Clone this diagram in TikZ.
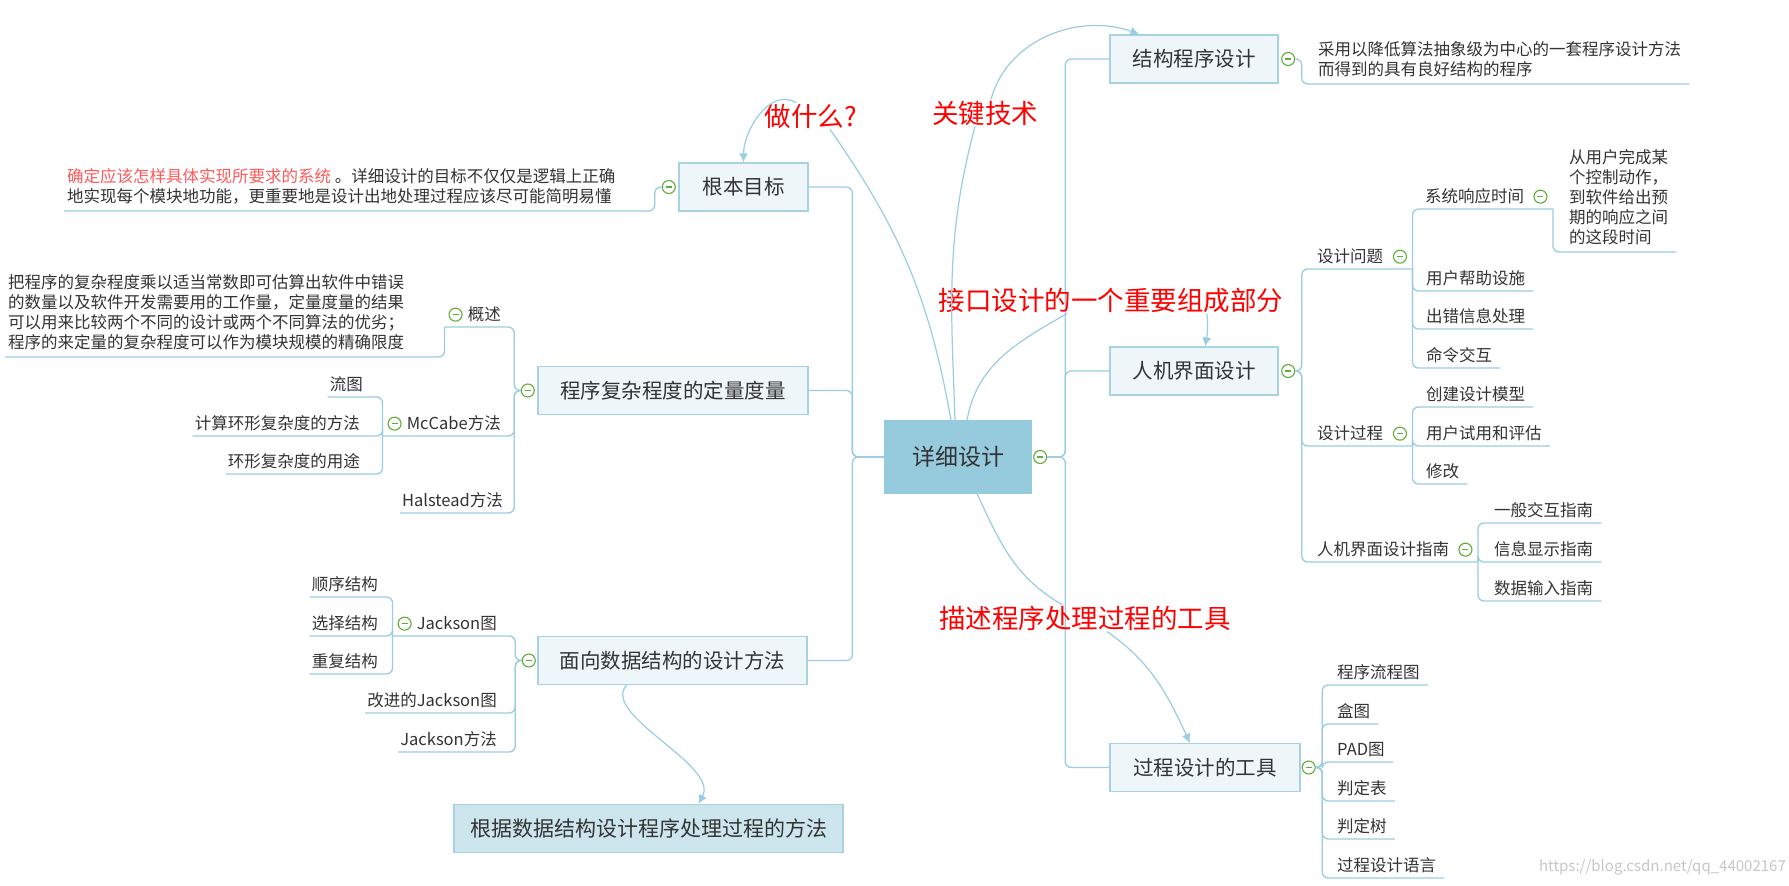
\documentclass[tikz,border=0pt]{standalone}
\usepackage{fontspec}
\setmainfont{Noto Sans CJK SC}
\usetikzlibrary{positioning,calc,arrows.meta}

\definecolor{lnc}{HTML}{9ACDE0}
\definecolor{bdc}{HTML}{A6D2E3}
\definecolor{boxc}{HTML}{EEF6FA}
\definecolor{rootc}{HTML}{96CBDD}
\definecolor{outc}{HTML}{CDE6EE}
\definecolor{txt}{HTML}{333333}
\definecolor{grn}{HTML}{62AD37}
\definecolor{hl}{HTML}{FF5A5A}
\definecolor{notec}{HTML}{FF0000}

\newcommand{\fsz}[1]{\fontsize{#1}{20}\selectfont}

\tikzset{
  lnk/.style={draw=lnc, line width=1.3pt, rounded corners=6pt},
  thread/.style={draw=lnc, line width=1.2pt},
  arr/.style={thread, -{Latex[length=9pt,width=9pt]}},
  topic/.style={draw=bdc, fill=boxc, line width=1.3pt, text=txt, font=\fsz{20.5},
    minimum height=48pt, inner sep=0pt},
  rootbox/.style={topic, draw=rootc, fill=rootc, font=\fsz{23}, minimum height=72pt},
  outbox/.style={topic, fill=outc, font=\fsz{21}},
  leaf/.style={text=txt, font=\fsz{16.5}, text height=14pt, text depth=3.3pt, inner ysep=3.5pt},
  rleaf/.style={leaf, inner xsep=8pt, anchor=south west},
  lleaf/.style={leaf, inner xsep=2pt, anchor=south east},
  para/.style={text=txt, font=\fsz{16.5}, align=left, text depth=6pt, inner ysep=2.5pt,
    anchor=south west},
  note/.style={text=notec, font=\fsz{26.5}, inner sep=1pt},
  wmark/.style={text=black!22, font=\fsz{15}, inner sep=0pt},
  minus/.style={circle, draw=grn, fill=white, line width=1.1pt, minimum size=13pt, inner sep=0pt,
    path picture={\draw[grn, line width=1.5pt] ([xshift=-3pt]path picture bounding box.center)
      -- ([xshift=3pt]path picture bounding box.center);}},
}

\begin{document}
\begin{tikzpicture}[x=1pt,y=-1pt]
\fill[white] (0,0) rectangle (1789,886);
\useasboundingbox (0,0) rectangle (1789,886);

% centre
\node[rootbox, minimum width=146pt] (root) at (958,457) {详细设计};
\node[minus, right=1.5pt of root] (rc) {};

% ---- right side ----
\node[topic, minimum width=168pt] (spd) at (1194,59) {结构程序设计};
\node[minus, right=2.5pt of spd] (sc) {};
\node[para, inner xsep=8pt] (spdtxt) at (1310,84)
  {采用以降低算法抽象级为中心的一套程序设计方法\\而得到的具有良好结构的程序};

\node[topic, minimum width=168pt] (hci) at (1194,371) {人机界面设计};
\node[minus, right=2.5pt of hci] (hc) {};
\node[rleaf] (ques) at (1309,269) {设计问题};
\node[minus, right=1.5pt of ques] (qc) {};
\node[rleaf] (proc) at (1309,446) {设计过程};
\node[minus, right=1.5pt of proc] (pc) {};
\node[rleaf] (guide) at (1309,562) {人机界面设计指南};
\node[minus, right=1pt of guide] (gdc) {};
\coordinate (qh) at ($(qc.east |- ques.south)+(5.5,0)$);
\coordinate (ph) at ($(pc.east |- proc.south)+(5.5,0)$);
\coordinate (gh) at ($(gdc.east |- guide.south)+(5.5,0)$);

\node[rleaf] (resp) at (1417,209) {系统响应时间};
\node[minus, right=1pt of resp] (src) {};
\coordinate (rh) at ($(src.east |- resp.south)+(5.5,0)$);
\node[para, inner xsep=8pt] (resptxt) at (1561,252)
  {从用户完成某\\个控制动作，\\到软件给出预\\期的响应之间\\的这段时间};
\node[rleaf] (help) at (1418,291) {用户帮助设施};
\node[rleaf] (err) at (1418,329) {出错信息处理};
\node[rleaf] (cmd) at (1418,368) {命令交互};
\node[rleaf] (model) at (1418,407) {创建设计模型};
\node[rleaf] (trial) at (1418,446) {用户试用和评估};
\node[rleaf] (fix) at (1418,484) {修改};
\node[rleaf] (gen) at (1486,523) {一般交互指南};
\node[rleaf] (info) at (1486,562) {信息显示指南};
\node[rleaf] (input) at (1486,601) {数据输入指南};

\node[topic, minimum width=190pt] (tool) at (1205,767.5) {过程设计的工具};
\node[minus, right=1pt of tool] (tc) {};
\foreach \n/\t/\y in {flow/程序流程图/685, nsbox/盒图/724, pad/PAD图/762,
    tab/判定表/801, tree/判定树/839, pdl/过程设计语言/878}
  \node[rleaf] (\n) at (1329,\y) {\t};

% ---- left side ----
\node[topic, minimum width=129pt] (goal) at (743.5,187) {根本目标};
\node[minus, left=2.5pt of goal] (gc) {};
\node[para, inner xsep=3pt] (goaltxt) at (64,211)
  {\textcolor{hl}{确定应该怎样具体实现所要求的系统} 。详细设计的目标不仅仅是逻辑上正确\\地实现每个模块地功能，更重要地是设计出地处理过程应该尽可能简明易懂};

\node[topic, minimum width=270pt] (cplx) at (673,390.5) {程序复杂程度的定量度量};
\node[minus, left=2.5pt of cplx] (cc) {};
\node[lleaf] (ovw) at (503,327) {概述};
\node[minus, left=3pt of ovw] (ovc) {};
\coordinate (ovh) at ($(ovc.west |- ovw.south)+(-4,0)$);
\node[para, inner xsep=3pt] (ovtxt) at (5,357)
  {把程序的复杂程度乘以适当常数即可估算出软件中错误\\的数量以及软件开发需要用的工作量，定量度量的结果\\可以用来比较两个不同的设计或两个不同算法的优劣；\\程序的来定量的复杂程度可以作为模块规模的精确限度};
\node[lleaf] (mcb) at (503,436) {McCabe方法};
\node[minus, left=3pt of mcb] (mcc) {};
\coordinate (mch) at ($(mcc.west |- mcb.south)+(-5,0)$);
\node[lleaf] (hal) at (505,513) {Halstead方法};
\node[lleaf] (fgraph) at (365,397) {流图};
\node[lleaf] (cyc) at (362,436) {计算环形复杂度的方法};
\node[lleaf] (use) at (362,474) {环形复杂度的用途};

\node[topic, minimum width=269pt] (dsm) at (672.5,660.5) {面向数据结构的设计方法};
\node[minus, left=1.5pt of dsm] (dc) {};
\node[lleaf] (jgr) at (499,636) {Jackson图};
\node[minus, left=3pt of jgr] (jgc) {};
\coordinate (jh) at ($(jgc.west |- jgr.south)+(-5,0)$);
\node[lleaf] (ijg) at (499,713) {改进的Jackson图};
\node[lleaf] (jmt) at (499,752) {Jackson方法};
\node[lleaf] (seq) at (380,597) {顺序结构};
\node[lleaf] (sel) at (380,636) {选择结构};
\node[lleaf] (rep) at (380,674) {重复结构};

\node[outbox, minimum width=389pt] (dsp) at (648.5,828.5) {根据数据结构设计程序处理过程的方法};

% trunks
\draw[lnk] (rc.east) -- ++(18,0) |- (spd.west);
\draw[lnk] (rc.east) -- ++(18,0) |- (hci.west);
\draw[lnk] (rc.east) -- ++(18,0) |- (tool.west);
\draw[lnk] (root.west) -- ++(-32,0) |- (goal.east);
\draw[lnk] (root.west) -- ++(-32,0) |- (cplx.east);
\draw[lnk] (root.west) -- ++(-32,0) |- (dsm.east);

% right branches
\draw[lnk] (sc.east) -- ++(6.5,0) |- (spdtxt.south east);
\foreach \h in {qh,ph,gh}
  \draw[lnk] (hc.east) -- ++(6.5,0) |- (\h);
\draw[lnk] (qh) |- (rh);
\draw[lnk] (rh) |- (resptxt.south east);
\foreach \n in {help,err,cmd}
  \draw[lnk] (qh) |- (\n.south east);
\foreach \n in {model,trial,fix}
  \draw[lnk] (ph) |- (\n.south east);
\foreach \n in {gen,info,input}
  \draw[lnk] (gh) |- (\n.south east);
\foreach \n in {flow,nsbox,pad,tab,tree,pdl}
  \draw[lnk] (tc.east) -- ++(6.5,0) |- (\n.south east);

% left branches
\draw[lnk] (gc.west) -- ++(-7,0) |- (goaltxt.south west);
\foreach \h in {ovh,mch,hal.south west}
  \draw[lnk] (cc.west) -- ++(-6.5,0) |- (\h);
\draw[lnk] (ovh) |- (ovtxt.south west);
\foreach \n in {fgraph,cyc,use}
  \draw[lnk] (mch) |- (\n.south west);
\foreach \h in {jh,ijg.south west,jmt.south west}
  \draw[lnk] (dc.west) -- ++(-6.5,0) |- (\h);
\foreach \n in {seq,sel,rep}
  \draw[lnk] (jh) |- (\n.south west);

% red remarks
\node[note] (what) at (811,116) {做什么?};
\node[note] (key) at (985,113) {关键技术};
\node[note] (iface) at (1111,300) {接口设计的一个重要组成部分};
\node[note] (tooln) at (1085,618) {描述程序处理过程的工具};

\draw[thread] ([xshift=-7pt]root.north) to[out=100,in=-55] ([xshift=19pt]what.south);
\draw[arr] ([xshift=-15pt]what.north) to[out=150,in=90] (goal.north);
\draw[thread] ([xshift=-3pt]root.north) to[out=92,in=-105] ([xshift=-10pt]key.south);
\draw[arr] ([xshift=6pt]key.north) to[out=75,in=160] ([xshift=30pt]spd.north west);
\draw[thread] ([xshift=9pt]root.north) to[out=80,in=210] ([xshift=-44pt]iface.south);
\draw[arr] ([xshift=96pt]iface.south) to[bend left=8] ([xshift=11pt]hci.north);
\draw[thread] ([xshift=19pt]root.south) to[out=-65,in=150] ([xshift=-23pt]tooln.north);
\draw[arr] ([xshift=22pt]tooln.south) to[out=-35,in=115] ([xshift=-15pt]tool.north);
\draw[arr] ([xshift=-46pt]dsm.south) .. controls +(-26,30) and +(21,-39) .. ([xshift=50pt]dsp.north);

\node[wmark, anchor=east] (wm) at (1786,867) {https://blog.csdn.net/qq\_44002167};
\end{tikzpicture}
\end{document}
